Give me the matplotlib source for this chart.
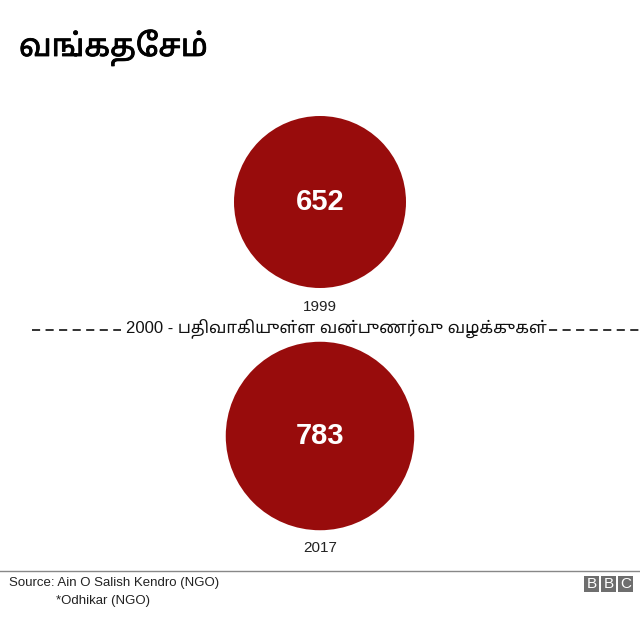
import matplotlib
matplotlib.use("Agg")
import matplotlib.pyplot as plt
from matplotlib.patches import Circle, Rectangle
import matplotlib.patheffects as pe
import numpy as np

title = "வங்கதேசம்"
years = ["1999", "2017"]
values = [652, 783]
divider_text = "2000 - பதிவாகியுள்ள வன்புணர்வு வழக்குகள்"
source_lines = ["Source: Ain O Salish Kendro (NGO)", "*Odhikar (NGO)"]

plt.rcParams['font.family'] = ['Liberation Sans', 'Noto Sans Tamil', 'Lohit Tamil', 'DejaVu Sans']

W, H = 640, 618
fig = plt.figure(figsize=(W / 100, H / 100), dpi=100)
ax = fig.add_axes([0, 0, 1, 1])
ax.set_xlim(0, W)
ax.set_ylim(H, 0)
ax.axis('off')

color = '#980c0c'
k = 86 / np.sqrt(values[0])
centers_y = [202, 436]
label_y = [307, 548]
for v, yr, cy, ly in zip(values, years, centers_y, label_y):
    r = k * np.sqrt(v)
    ax.add_patch(Circle((320, cy), r, color=color, lw=0))
    ax.text(320, cy, str(v), ha='center', va='center', color='white',
            fontsize=21, fontweight='bold')
    ax.text(320, ly, yr, ha='center', va='center', color='#222222', fontsize=11)

ax.text(19, 48, title, ha='left', va='center', fontsize=22.5, color='black',
        family=['Noto Sans Tamil', 'Lohit Tamil'],
        path_effects=[pe.withStroke(linewidth=0.6, foreground='black')])

ax.plot([32, 121], [330, 330], color='#222222', lw=1.3, dashes=(4.5, 3))
ax.plot([549, 640], [330, 330], color='#222222', lw=1.3, dashes=(4.5, 3))
ax.text(336, 328, divider_text, ha='center', va='center', fontsize=12, color='#111111')

ax.plot([0, 640], [571, 571], color='#888888', lw=1)
ax.text(9, 583, source_lines[0], ha='left', va='center', fontsize=9.5, color='#222222')
ax.text(56, 601, source_lines[1], ha='left', va='center', fontsize=9.5, color='#222222')

for i, ch in enumerate("BBC"):
    x0 = 584 + i * 17
    ax.add_patch(Rectangle((x0, 576), 15, 16, color='#6e6e6e', lw=0))
    ax.text(x0 + 7.5, 584.5, ch, ha='center', va='center', color='white',
            fontsize=11)

fig.savefig("out.png", dpi=100)
